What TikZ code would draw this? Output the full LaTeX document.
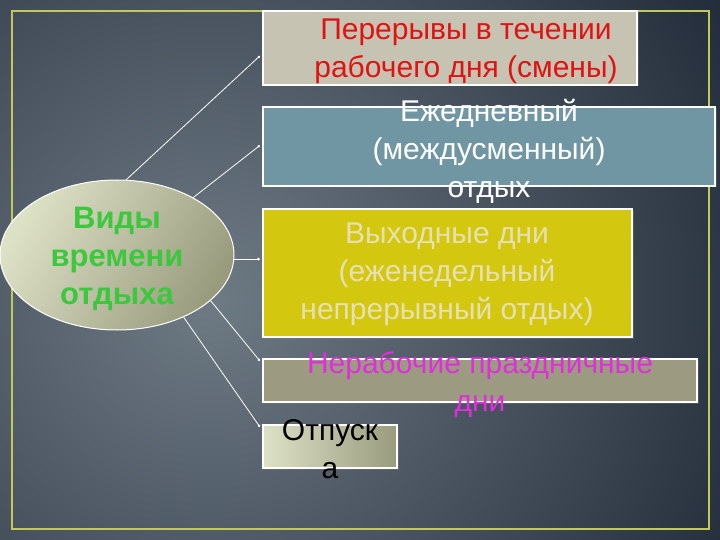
\documentclass[tikz,border=0pt]{standalone}
\usepackage{fontspec}
\setmainfont{Liberation Sans}
\usetikzlibrary{arrows.meta,shadows,calc,shapes.geometric}
\definecolor{bgin}{HTML}{6E7A84}
\definecolor{bgout}{HTML}{1A2432}
\definecolor{framecol}{HTML}{C2C85A}
\definecolor{fillA}{HTML}{C6C3B3}
\definecolor{fillB}{HTML}{7096A3}
\definecolor{fillC}{HTML}{D3C80F}
\definecolor{fillD}{HTML}{9D9A82}
\definecolor{fillEl}{HTML}{DDE1C6}
\definecolor{fillEr}{HTML}{999B7D}
\definecolor{txtRed}{HTML}{E01212}
\definecolor{txtBeige}{HTML}{E7E0B2}
\definecolor{txtMag}{HTML}{E02EDC}
\definecolor{txtGreen}{HTML}{3CC83C}
\begin{document}
\begin{tikzpicture}[x=1pt,y=-1pt,
  boxnode/.style={draw=white, line width=2.5pt, rectangle, inner sep=0pt,
    drop shadow={opacity=0.35, shadow xshift=1.5pt, shadow yshift=-1.5pt}},
  txt/.style={align=center, inner sep=0pt, font=\fontsize{30}{38}\selectfont},
  conn/.style={draw=white, line width=0.8pt, -{Circle[length=2.5pt,open,fill=white]}}]
\useasboundingbox (0,0) rectangle (720,540);
\begin{scope}
  \clip (0,0) rectangle (720,540);
  \fill[bgout] (0,0) rectangle (720,540);
  \shade[inner color=bgin, outer color=bgout] (210,300) circle (660pt);
\end{scope}
\draw[framecol, line width=2pt] (11.5,11) rectangle (709,529);

% boxes
\node[boxnode, fill=fillA, minimum width=374pt, minimum height=74pt] (b1) at (450,48) {};
\node[boxnode, fill=fillB, minimum width=452pt, minimum height=79pt] (b2) at (489,146.5) {};
\node[boxnode, fill=fillC, minimum width=369pt, minimum height=128pt] (b3) at (447.5,273) {};
\node[boxnode, fill=fillD, minimum width=434pt, minimum height=43pt] (b4) at (480,380.5) {};
\node[boxnode, left color=fillEl, right color=fillEr, minimum width=134pt, minimum height=43pt] (b5) at (330,446.5) {};

% ellipse
\node[ellipse, draw=white, line width=1pt, inner sep=0pt, minimum width=234pt, minimum height=150pt,
  left color=fillEl, right color=fillEr, shading angle=60] (e) at (117,255) {};

% texts
\node[txt, text=txtRed] (t1) at (466,51) {Перерывы в течении\\рабочего дня (смены)};
\node[txt, text=white] (t2) at (489,151) {Ежедневный\\(междусменный)\\отдых};
\node[txt, text=txtBeige] (t3) at (447,274) {Выходные дни\\(еженедельный\\непрерывный отдых)};
\node[txt, text=txtMag] (t4) at (480,384) {Нерабочие праздничные\\дни};
\node[txt, text=black] (t5) at (330,449) {Отпуск\\а};
\node[txt, text=txtGreen, font=\fontsize{31}{38}\bfseries\selectfont] (te) at (117,259) {Виды\\времени\\отдыха};

% connectors
\draw[conn] (e.83) -- ($(b1.west)+(-2,8)$);
\draw[conn] (e.37) -- ($(b2.west)+(-2,-1)$);
\draw[conn] (e.-2) -- ($(e.-2 -| b3.west)+(-2,0)$);
\draw[conn] (e.-26) -- ($(b4.north west)+(-2,3)$);
\draw[conn] (e.-43) -- ($(b5.north west)+(-2,3)$);
\end{tikzpicture}
\end{document}
